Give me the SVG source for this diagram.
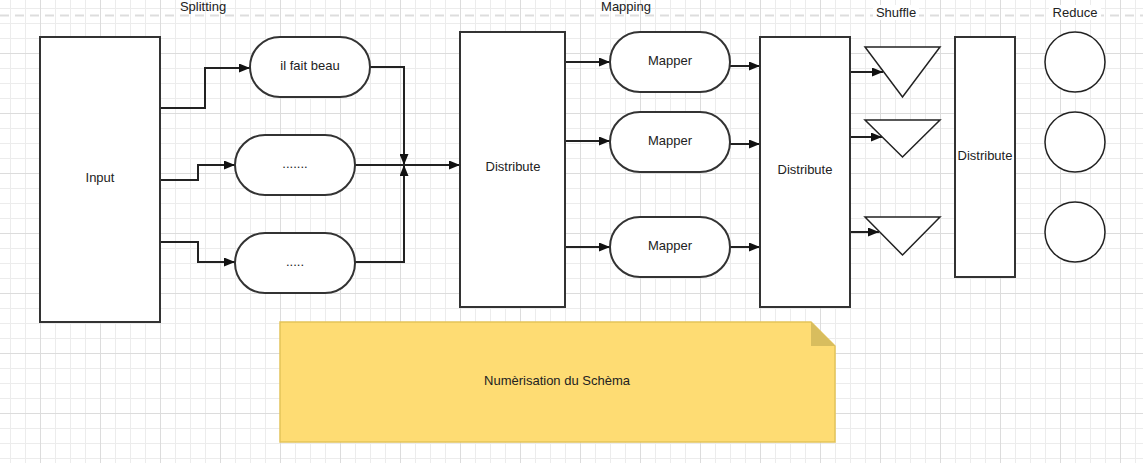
<svg xmlns="http://www.w3.org/2000/svg" width="1143" height="463" viewBox="0 0 1143 463">
<defs>
<pattern id="gMinor" patternUnits="userSpaceOnUse" x="10" y="8" width="15" height="15">
<path d="M0.5,0 V15 M0,0.5 H15" fill="none" stroke="#ececec" stroke-width="1"/>
</pattern>
<pattern id="gMajor" patternUnits="userSpaceOnUse" x="40" y="53" width="60" height="60">
<path d="M0.5,0 V60 M0,0.5 H60" fill="none" stroke="#dcdcdc" stroke-width="1"/>
</pattern>
<marker id="arr" markerUnits="userSpaceOnUse" markerWidth="11" markerHeight="9" refX="11" refY="4.5" orient="auto">
<path d="M0,0 L11,4.5 L0,9 z" fill="#111"/>
</marker>
<style>
.shape{fill:#fff;stroke:#333;stroke-width:2}
.thin{fill:#fff;stroke:#222;stroke-width:1.5}
.lbl{font-family:"Liberation Sans",Arial,sans-serif;font-size:13px;fill:#222;text-anchor:middle}
.conn path{fill:none;stroke:#222;stroke-width:2;marker-end:url(#arr)}
</style>
</defs>
<rect width="1143" height="463" fill="#fff"/>
<rect width="1143" height="463" fill="url(#gMinor)"/>
<rect width="1143" height="463" fill="url(#gMajor)"/>
<line x1="0" y1="15.5" x2="1143" y2="15.5" stroke="#dddddd" stroke-width="2" stroke-dasharray="9 6"/>
<g id="labels">
<text class="lbl" x="203" y="11">Splitting</text>
<text class="lbl" x="626" y="11">Mapping</text>
<rect x="873" y="5" width="46" height="15" fill="#fff"/>
<text class="lbl" x="896" y="17">Shuffle</text>
<rect x="1049" y="5" width="52" height="15" fill="#fff"/>
<text class="lbl" x="1075" y="17">Reduce</text>
</g>
<g id="connectors" class="conn">
<path d="M160,108 H205 V68 H250"/>
<path d="M160,180 H198 V165 H235"/>
<path d="M160,242 H198 V262 H235"/>
<path d="M370,67 H404 V165"/>
<path d="M355,262 H404 V165"/>
<path d="M355,165 H460"/>
<path d="M565,62 H610"/>
<path d="M565,141 H610"/>
<path d="M565,247 H610"/>
<path d="M730,66 H760"/>
<path d="M730,144 H760"/>
<path d="M730,247 H760"/>
<path d="M850,72 H883"/>
<path d="M850,137 H882"/>
<path d="M850,232 H879"/>
</g>
<g id="input"><rect class="shape" x="40" y="37" width="120" height="285"/><text class="lbl" x="100" y="182">Input</text></g>
<g id="split1"><rect class="shape" x="250" y="37" width="120" height="60" rx="30"/><text class="lbl" x="310" y="70">il fait beau</text></g>
<g id="split2"><rect class="shape" x="235" y="135" width="120" height="60" rx="30"/><text class="lbl" x="295" y="168">.......</text></g>
<g id="split3"><rect class="shape" x="235" y="233" width="120" height="60" rx="30"/><text class="lbl" x="295" y="266">.....</text></g>
<g id="distribute1"><rect class="shape" x="460" y="32" width="105" height="275"/><text class="lbl" x="513" y="171">Distribute</text></g>
<g id="mapper1"><rect class="shape" x="610" y="32" width="120" height="60" rx="30"/><text class="lbl" x="670" y="65">Mapper</text></g>
<g id="mapper2"><rect class="shape" x="610" y="112" width="120" height="60" rx="30"/><text class="lbl" x="670" y="145">Mapper</text></g>
<g id="mapper3"><rect class="shape" x="610" y="217" width="120" height="60" rx="30"/><text class="lbl" x="670" y="250">Mapper</text></g>
<g id="distribute2"><rect class="shape" x="760" y="37" width="90" height="270"/><text class="lbl" x="805" y="174">Distribute</text></g>
<g id="shuffle1"><path class="thin" d="M865,47 H940 L902.5,97 z"/></g>
<g id="shuffle2"><path class="thin" d="M865,120 H940 L902.5,157 z"/></g>
<g id="shuffle3"><path class="thin" d="M865,217 H940 L902.5,255 z"/></g>
<g id="distribute3"><rect class="shape" x="955" y="37" width="60" height="240"/><text class="lbl" x="985" y="160">Distribute</text></g>
<g id="reduce1"><circle class="thin" cx="1075" cy="62" r="30"/></g>
<g id="reduce2"><circle class="thin" cx="1075" cy="142" r="30"/></g>
<g id="reduce3"><circle class="thin" cx="1075" cy="232" r="30"/></g>
<g id="note">
<path d="M280,322 H811 L835,346 V442 H280 z" fill="#fedc73" stroke="#e3c35a" stroke-width="1.5"/>
<path d="M811,322 L835,346 H811 z" fill="#d8bd5e"/>
<text class="lbl" x="557" y="385">Numèrisation du Schèma</text>
</g>
</svg>
